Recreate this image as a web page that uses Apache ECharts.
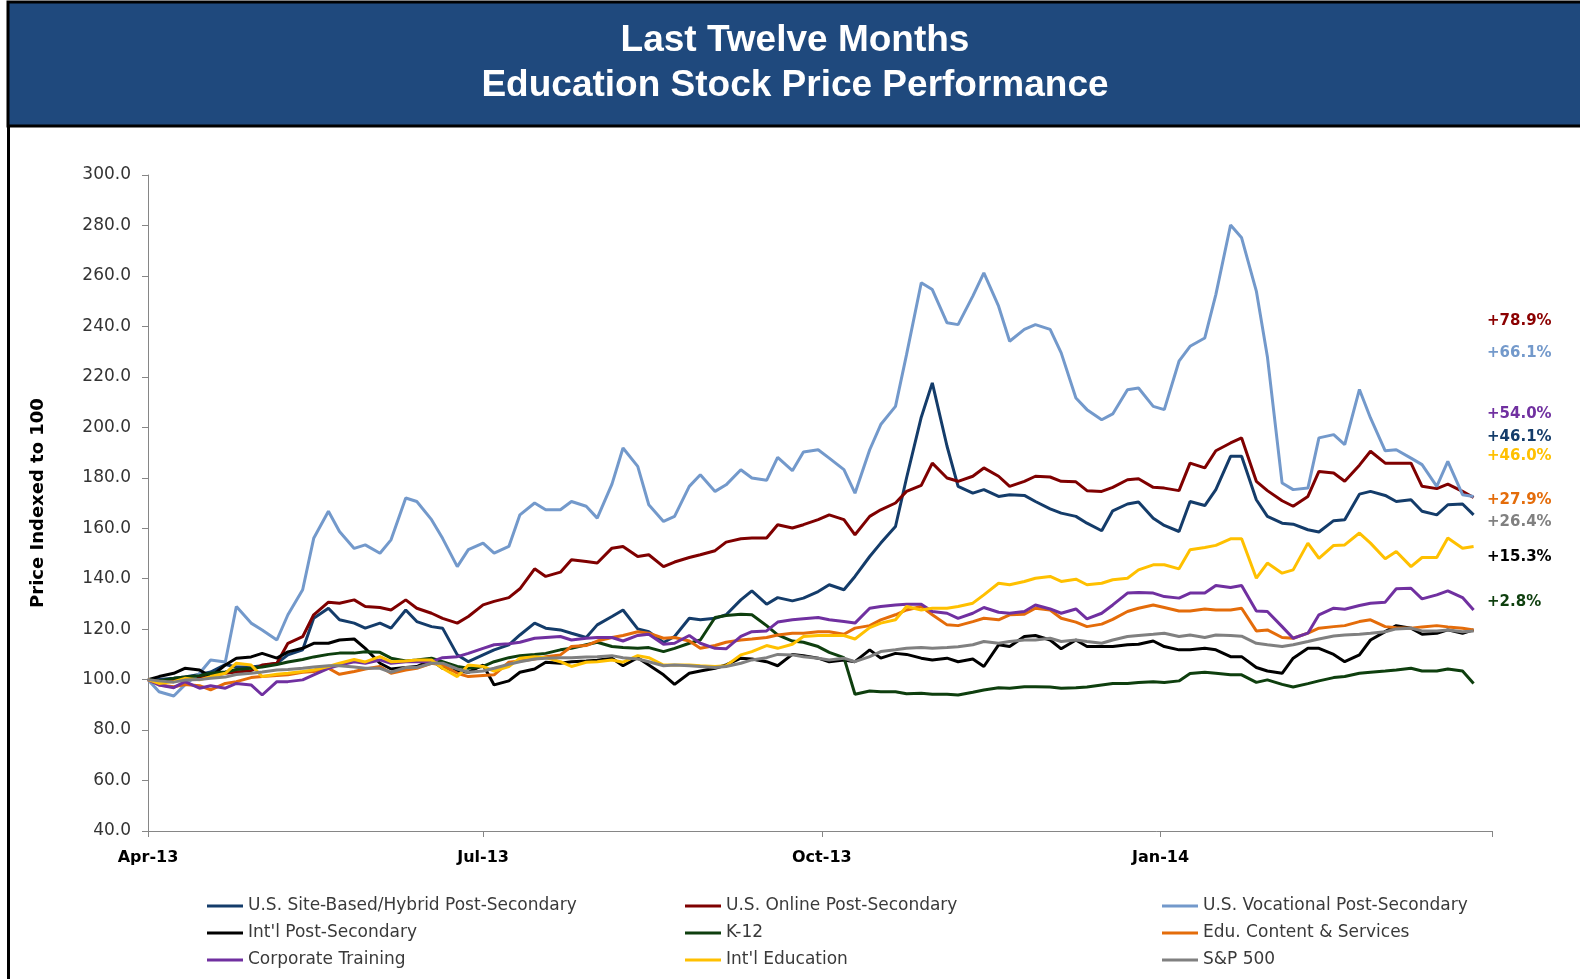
<!DOCTYPE html>
<html>
<head>
<meta charset="utf-8">
<script src="https://cdn.jsdelivr.net/npm/echarts@6/dist/echarts.min.js"></script>
<style>
  html, body { margin: 0; padding: 0; background: #fff; }
  #chart { width: 1580px; height: 979px; }
</style>
</head>
<body>
<div id="chart"></div>
<script>
// trading days sampled Mon/Thu
const dates = [
  '2013-04-01','2013-04-04','2013-04-08','2013-04-11','2013-04-15','2013-04-18','2013-04-22','2013-04-25','2013-04-29',
  '2013-05-02','2013-05-06','2013-05-09','2013-05-13','2013-05-16','2013-05-20','2013-05-23','2013-05-27','2013-05-30',
  '2013-06-03','2013-06-06','2013-06-10','2013-06-13','2013-06-17','2013-06-20','2013-06-24','2013-06-27',
  '2013-07-01','2013-07-04','2013-07-08','2013-07-11','2013-07-15','2013-07-18','2013-07-22','2013-07-25','2013-07-29',
  '2013-08-01','2013-08-05','2013-08-08','2013-08-12','2013-08-15','2013-08-19','2013-08-22','2013-08-26','2013-08-29',
  '2013-09-02','2013-09-05','2013-09-09','2013-09-12','2013-09-16','2013-09-19','2013-09-23','2013-09-26','2013-09-30',
  '2013-10-03','2013-10-07','2013-10-10','2013-10-14','2013-10-17','2013-10-21','2013-10-24','2013-10-28','2013-10-31',
  '2013-11-04','2013-11-07','2013-11-11','2013-11-14','2013-11-18','2013-11-21','2013-11-25','2013-11-28',
  '2013-12-02','2013-12-05','2013-12-09','2013-12-12','2013-12-16','2013-12-19','2013-12-23','2013-12-26','2013-12-30',
  '2014-01-02','2014-01-06','2014-01-09','2014-01-13','2014-01-16','2014-01-20','2014-01-23','2014-01-27','2014-01-30',
  '2014-02-03','2014-02-06','2014-02-10','2014-02-13','2014-02-17','2014-02-20','2014-02-24','2014-02-27',
  '2014-03-03','2014-03-06','2014-03-10','2014-03-13','2014-03-17','2014-03-20','2014-03-24','2014-03-27'
];

const siteBased = [
  100, 100, 100.5, 101, 102, 103, 106, 105, 105, 105.5, 106.5, 109.8, 111.8, 124.3, 128.3, 123.7, 122.4, 120.4,
  122.4, 120.4, 127.6, 123, 121, 120.4, 109.8, 107.1, 109.8, 111.8, 113.8, 117.7, 122.4, 120.4, 119.7, 118.4, 116.7, 121.7,
  125, 127.6, 120.1, 119, 114.7, 117.1, 124.3, 123.7, 124.3, 125.7, 131.6, 135.2, 129.9, 132.5, 131.2, 132.3, 134.9,
  137.6, 135.6, 140.9, 148.8, 154.1, 160.7, 179.9, 204, 217.6, 192.5, 176.6, 173.9, 175.3, 172.6, 173.3, 173, 170.6,
  167.7, 166, 164.7, 162, 159, 166.9, 169.6, 170.4, 164, 161.1, 158.7, 170.6, 169, 175.3, 188.5, 188.5, 171.3, 164.7,
  162, 161.6, 159.4, 158.5, 163, 163.4, 173.5, 174.6, 173, 170.6, 171.3, 166.7, 165.3, 169.3, 169.6, 165.3
];
const online = [
  100, 99.5, 100, 100.5, 101, 101.5, 102.5, 103, 103.5, 105.8, 106.5, 114.4, 117, 125.7, 130.7, 130.3, 131.6, 129,
  128.6, 127.6, 131.6, 128.3, 126.3, 124.3, 122.4, 125, 129.6, 131, 132.5, 136, 143.9, 140.9, 142.6, 147.5, 146.8, 146.2,
  152.1, 152.8, 148.8, 149.5, 144.8, 146.6, 148.4, 149.5, 151.1, 154.5, 155.8, 156.1, 156.1, 161.4, 160.1, 161.4, 163.4,
  165.3, 163.4, 157.4, 164.7, 167.3, 170, 174.6, 177, 185.8, 179.9, 178.6, 180.6, 183.9, 180.6, 176.6, 178.6, 180.6,
  180.3, 178.6, 178.4, 174.9, 174.6, 176.2, 179.2, 179.6, 176.2, 175.9, 174.9, 185.8, 183.9, 190.7, 193.8, 195.8, 178.6, 174.9,
  170.9, 168.7, 172.6, 182.5, 181.9, 178.6, 185, 190.5, 185.8, 185.8, 185.8, 176.6, 175.7, 177.5, 174.6, 172.2
];
const vocational = [
  100, 95.2, 93.5, 97.9, 102.5, 107.8, 107, 129, 122.4, 119.7, 115.7, 125.7, 135.6, 156, 166.7, 158.7, 152, 153.4,
  150.1, 155.4, 172, 170.6, 163.4, 156, 144.8, 151.5, 154.1, 150.1, 152.8, 165.3, 170, 167.3, 167.3, 170.6, 168.7, 164,
  177.5, 191.8, 184.5, 169.3, 162.7, 164.7, 176.6, 181.2, 174.6, 177.2, 183.2, 179.9, 179, 188.1, 182.8, 190.2, 191.1,
  187.8, 183.2, 173.9, 191.1, 201.1, 208.3, 228.8, 257.3, 254.6, 241.4, 240.7, 252, 261.2, 248, 234.1, 238.8, 240.7,
  238.8, 229.5, 211.6, 207, 203, 205.3, 214.9, 215.6, 208.3, 207, 226.2, 232.1, 235.4, 252.6, 280.2, 275.1, 254, 228,
  177.9, 175.3, 175.9, 195.8, 197.1, 193.1, 215, 203.7, 190.7, 191.1, 187.8, 185.2, 176.6, 186.5, 173.3, 172.6
];
const intlPostSec = [
  100, 101.2, 102.5, 104.5, 103.8, 101.2, 105.8, 108.5, 109, 110.4, 108.5, 111, 112.4, 114.4, 114.4, 115.7, 116.1, 112.4,
  106.5, 104.2, 104.8, 105.2, 107.8, 104.5, 103.4, 102.9, 105.8, 97.9, 99.5, 102.9, 104.2, 106.9, 106.5, 107.1, 107.4, 107.7,
  108.5, 105.5, 108.7, 105.8, 101.9, 98.1, 102.5, 103.4, 104.5, 105.8, 108.5, 108.2, 107.1, 105.5, 110, 109.5, 108.5,
  107.1, 107.8, 107.1, 111.8, 108.5, 110.4, 110, 108.5, 107.8, 108.5, 107.1, 108.2, 105.2, 113.8, 113.1, 117.1, 117.5,
  115.7, 112.2, 115.7, 113.1, 113.1, 113.1, 113.8, 114, 115.3, 113.1, 111.8, 111.8, 112.4, 111.8, 109.1, 109.1, 104.8, 103.4,
  102.5, 108.5, 112.4, 112.4, 110, 107.1, 109.8, 115.7, 119, 121.4, 120.4, 118, 118.4, 119.7, 118.4, 119.7
];
const k12 = [
  100, 99.5, 100.5, 101, 101.5, 102.5, 103, 104, 104.5, 105, 106, 107, 108, 109, 110, 110.5, 110.5, 111,
  110.8, 108.5, 107.4, 107.8, 108.5, 107.1, 105.2, 104.5, 105.2, 107.1, 108.7, 109.5, 110, 110.4, 111.8, 112.4, 113.8, 114.8,
  113.1, 112.7, 112.4, 112.7, 111.1, 112.4, 114.4, 115.7, 124.6, 125.4, 125.9, 125.7, 121.4, 117.7, 115.3, 114.8, 113.1,
  110.8, 108.7, 94.2, 95.5, 95.2, 95.2, 94.4, 94.6, 94.2, 94.2, 93.9, 95, 95.9, 96.8, 96.6, 97.2, 97.2,
  97.1, 96.6, 96.8, 97.1, 97.9, 98.5, 98.5, 98.9, 99.2, 98.9, 99.5, 102.4, 102.9, 102.5, 101.9, 101.9, 98.9, 99.9,
  98.1, 97.1, 98.4, 99.5, 100.8, 101.2, 102.5, 102.9, 103.4, 103.8, 104.5, 103.4, 103.4, 104.2, 103.4, 98.5
];
const eduContent = [
  100, 97.9, 97.2, 98.1, 97.6, 95.9, 98.5, 99.2, 100.8, 101.2, 101.6, 101.9, 102.9, 103.2, 104.5, 102.1, 103.2, 104.2,
  105.2, 102.5, 103.8, 104.5, 106.5, 105.8, 102.5, 101.2, 101.6, 101.9, 106.9, 107.4, 108.2, 109.1, 109.8, 113.1, 113.5, 115.3,
  116.7, 117.5, 119, 118.4, 116.4, 116.7, 115.3, 112.4, 113.5, 114.8, 115.7, 116.1, 116.7, 117.7, 118.4, 118.4, 119,
  119, 118, 120.4, 121.4, 123.7, 125.7, 127.6, 129, 125.7, 121.7, 121.4, 123, 124.3, 123.7, 125.7, 125.9, 128.3,
  127.6, 124.3, 122.8, 121, 122, 123.9, 127, 128.3, 129.6, 128.6, 127.2, 127.2, 128, 127.6, 127.6, 128.3, 119.3, 119.7,
  116.7, 116.4, 118.4, 120.4, 121, 121.4, 123, 123.7, 121, 120.6, 120.4, 120.9, 121.4, 120.9, 120.4, 119.7
];
const corporate = [
  100, 97.9, 96.8, 99.2, 96.6, 97.6, 96.6, 98.5, 97.9, 93.9, 99.2, 99.2, 99.9, 101.9, 104.5, 105.8, 107.1, 106.5,
  107.8, 106.5, 107.1, 107.1, 107.1, 108.7, 109.1, 110.4, 112.4, 113.8, 114.2, 114.8, 116.4, 116.7, 117.1, 115.7, 116.4, 116.7,
  116.7, 115.3, 117.5, 118, 114, 114.4, 117.5, 114.4, 112.4, 112.2, 117.1, 119, 119.3, 122.8, 123.7, 124.1, 124.6,
  123.7, 123, 122.4, 128.3, 129, 129.6, 129.9, 129.9, 127, 126.3, 124.3, 126.3, 128.6, 126.7, 126.3, 127, 129.6,
  128, 126.3, 128, 124.1, 126.3, 129.6, 134.3, 134.5, 134.3, 132.9, 132.3, 134.3, 134.3, 137.3, 136.5, 137.3, 127.2, 127,
  121, 116.4, 118.4, 125.7, 128.3, 127.9, 129.4, 130.3, 130.7, 136, 136.2, 132, 133.6, 135.2, 132.5, 127.6
];
const intlEdu = [
  100, 98.5, 99.2, 100.5, 99.9, 101.2, 102.5, 106.5, 105.8, 101.2, 102.1, 102.5, 103.2, 103.8, 105.2, 106.5, 108, 107,
  109.1, 107.1, 107.4, 107.8, 107.8, 104.5, 101.2, 105.8, 105.2, 103.4, 105.2, 108.5, 109.1, 108.7, 107.1, 105.2, 106.9, 107.1,
  107.8, 106.9, 109.5, 108.7, 105.8, 105.8, 105.8, 105.5, 105.2, 105.5, 109.8, 111.1, 113.5, 112.4, 114, 117.1, 117.5,
  117.5, 117.5, 116.1, 120.6, 122.4, 123.7, 129, 127.6, 128.3, 128.3, 129, 130.3, 133.6, 138.2, 137.6, 138.9, 140.2,
  140.9, 138.9, 139.8, 137.6, 138.2, 139.6, 140.2, 143.5, 145.5, 145.5, 143.9, 151.5, 152.4, 153.2, 155.8, 155.8, 140.2, 146.2,
  142.2, 143.5, 154.1, 148.1, 153.2, 153.4, 158.1, 154.1, 147.9, 150.8, 144.8, 148.4, 148.4, 156.1, 152.1, 152.8
];
const sp500 = [
  100, 99.5, 99, 99.8, 100, 100.5, 101, 102, 102.5, 103, 103.8, 104, 104.5, 105, 105.5, 105.5, 105, 104.5,
  104.5, 102.9, 104.8, 104.8, 106.5, 106.5, 104.2, 102.9, 103.4, 104.5, 106.1, 107.1, 108.2, 108.5, 108.7, 108.7, 109, 109.1,
  109.5, 108.7, 108.2, 107.1, 105.5, 105.8, 105.5, 105.2, 104.8, 105.2, 106.5, 107.8, 108.7, 110, 109.8, 109.1, 108.5,
  107.8, 108.5, 107.1, 109.1, 111.1, 111.8, 112.4, 112.7, 112.4, 112.7, 113, 113.8, 115.1, 114.4, 115.1, 115.7, 115.7,
  116.4, 115.1, 115.7, 115.1, 114.4, 115.7, 117.1, 117.5, 118, 118.4, 117.1, 117.7, 116.7, 117.7, 117.5, 117.2, 114.4, 113.8,
  113.1, 113.8, 115.1, 116.1, 117.3, 117.7, 118, 118.4, 119, 120.1, 120.4, 119.3, 119.3, 119.7, 119, 119.3
];

const seriesNames = [
  'U.S. Site-Based/Hybrid Post-Secondary', 'U.S. Online Post-Secondary', 'U.S. Vocational Post-Secondary',
  "Int'l Post-Secondary", 'K-12', 'Edu. Content & Services',
  'Corporate Training', "Int'l Education", 'S&P 500'
];
const seriesValues = [siteBased, online, vocational, intlPostSec, k12, eduContent, corporate, intlEdu, sp500];
const seriesColors = ['#143C6A', '#7F0000', '#7399CB', '#000000', '#0E3F0E', '#E46C0A', '#7030A0', '#FFC000', '#808080'];

const axisStart = '2013-04-01';
const axisEnd = '2014-04-01';
const xTickDates = ['2013-04-01', '2013-07-01', '2013-10-01', '2014-01-01'];
const xTickLabels = ['Apr-13', 'Jul-13', 'Oct-13', 'Jan-14'];

// LTM change labels at the right
const changeLabels = ['+78.9%', '+66.1%', '+54.0%', '+46.1%', '+46.0%', '+27.9%', '+26.4%', '+15.3%', '+2.8%'];
const changeColors = ['#8B0000', '#7399CB', '#7030A0', '#143C6A', '#FFC000', '#E46C0A', '#808080', '#000000', '#0E3F0E'];
const changeLabelY = [321, 353, 414, 437, 456, 500, 522, 557, 602];

// days since axis start, so the x axis is a plain linear date scale
const dayOf = s => {
  const p = s.split('-').map(Number);
  const a = axisStart.split('-').map(Number);
  return (Date.UTC(p[0], p[1] - 1, p[2]) - Date.UTC(a[0], a[1] - 1, a[2])) / 86400000;
};
const labelDays = xTickDates.map(dayOf);

const chart = echarts.init(document.getElementById('chart'));

const series = seriesNames.map((name, i) => ({
  name: name,
  type: 'line',
  symbol: 'none',
  lineStyle: { width: 3, color: seriesColors[i] },
  itemStyle: { color: seriesColors[i] },
  data: dates.map((d, j) => [dayOf(d), seriesValues[i][j]])
}));

const legendBase = {
  orient: 'vertical',
  top: 892,
  icon: 'rect',
  itemWidth: 36,
  itemHeight: 3,
  itemGap: 9,
  textStyle: { fontFamily: 'DejaVu Sans', fontSize: 17, color: '#3a3a3a', lineHeight: 18 }
};

const graphics = [
  {
    type: 'rect',
    shape: { x: 8, y: 2, width: 1580, height: 124 },
    style: { fill: '#1F497D', stroke: '#000', lineWidth: 3 },
    z: -10
  },
  {
    type: 'rect',
    shape: { x: 7, y: 126, width: 3, height: 860 },
    style: { fill: '#000' }
  }
];
changeLabels.forEach((t, i) => {
  graphics.push({
    type: 'text',
    x: 1487,
    y: changeLabelY[i],
    style: {
      text: t,
      fill: changeColors[i],
      fontFamily: 'DejaVu Sans',
      fontWeight: 'bold',
      fontSize: 15,
      verticalAlign: 'middle'
    }
  });
});

const option = {
  animation: false,
  backgroundColor: '#fff',
  title: {
    text: 'Last Twelve Months\nEducation Stock Price Performance',
    left: 790,
    top: 13,
    textAlign: 'center',
    textStyle: {
      color: '#fff',
      fontFamily: 'Liberation Sans',
      fontWeight: 'bold',
      fontSize: 37,
      lineHeight: 45
    }
  },
  graphic: graphics,
  grid: { left: 148, right: 88, top: 175, bottom: 148 },
  legend: [
    Object.assign({}, legendBase, { left: 202, data: [seriesNames[0], seriesNames[3], seriesNames[6]] }),
    Object.assign({}, legendBase, { left: 680, data: [seriesNames[1], seriesNames[4], seriesNames[7]] }),
    Object.assign({}, legendBase, { left: 1157, data: [seriesNames[2], seriesNames[5], seriesNames[8]] })
  ],
  xAxis: {
    type: 'value',
    min: 0,
    max: dayOf(axisEnd),
    splitLine: { show: false },
    axisLine: { onZero: false, lineStyle: { color: '#868686', width: 1 } },
    axisTick: {
      show: true,
      length: 6,
      lineStyle: { color: '#868686' },
      customValues: xTickDates.concat([axisEnd]).map(dayOf)
    },
    axisLabel: {
      customValues: labelDays,
      margin: 19,
      fontFamily: 'DejaVu Sans',
      fontWeight: 'bold',
      fontSize: 16,
      color: '#000',
      formatter: v => xTickLabels[labelDays.indexOf(v)]
    }
  },
  yAxis: {
    type: 'value',
    min: 40,
    max: 300,
    interval: 20,
    name: 'Price Indexed to 100',
    nameLocation: 'middle',
    nameGap: 101,
    nameRotate: 90,
    nameTextStyle: { fontFamily: 'DejaVu Sans', fontWeight: 'bold', fontSize: 18, color: '#000' },
    splitLine: { show: false },
    axisLine: { show: true, lineStyle: { color: '#868686', width: 1 } },
    axisTick: { show: true, length: 6, lineStyle: { color: '#868686' } },
    axisLabel: {
      margin: 17,
      fontFamily: 'DejaVu Sans',
      fontSize: 17,
      color: '#333',
      formatter: v => v.toFixed(1)
    }
  },
  series: series
};

chart.setOption(option);
</script>
</body>
</html>
